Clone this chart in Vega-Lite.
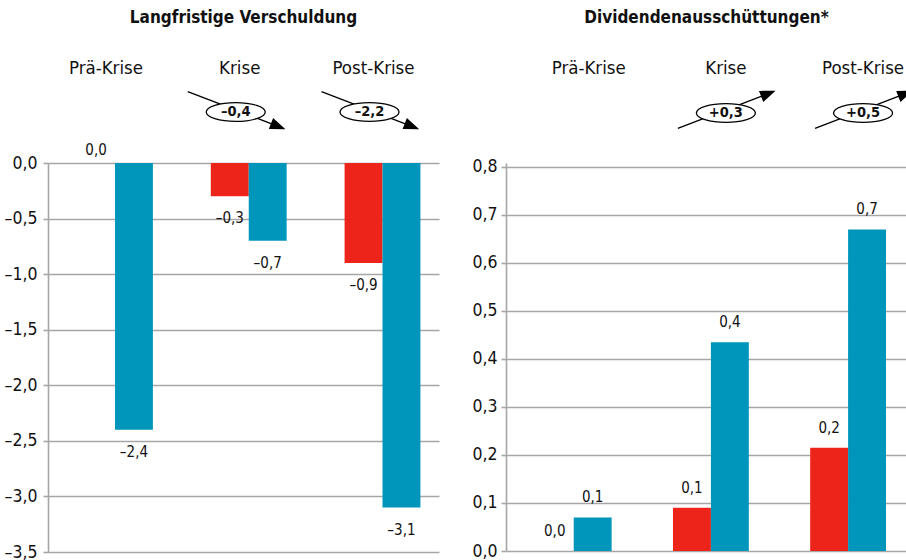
{
  "$schema": "https://vega.github.io/schema/vega-lite/v6.json",
  "background": "white",
  "padding": {"left": 4, "top": 9, "right": 0, "bottom": 2},
  "config": {
    "locale": {"number": {"decimal": ",", "thousands": ".", "grouping": [3], "currency": ["", " €"], "minus": "–"}},
    "font": "Liberation Sans Narrow, DejaVu Sans Condensed, sans-serif",
    "view": {"stroke": null},
    "concat": {"spacing": 32},
    "title": {"fontSize": 17, "fontWeight": "bold", "color": "#111111", "anchor": "middle", "offset": 31},
    "axisY": {
      "title": null, "format": ".1f", "grid": true,
      "gridColor": "#a6a6a6", "gridWidth": 1.6,
      "domainColor": "#a6a6a6", "domainWidth": 1.6,
      "tickColor": "#a6a6a6", "tickWidth": 1.6, "tickSize": 5,
      "labelFontSize": 17.5, "labelColor": "#111111", "labelPadding": 6
    },
    "axisX": {
      "title": null, "domain": false, "ticks": false, "grid": false,
      "labelAngle": 0, "labelFontSize": 18.5, "labelColor": "#111111", "labelBaseline": "alphabetic"
    }
  },
  "datasets": {
    "verschuldung": [
      {"phase": "Prä-Krise", "gruppe": "A", "wert": 0.0},
      {"phase": "Prä-Krise", "gruppe": "B", "wert": -2.4},
      {"phase": "Krise", "gruppe": "A", "wert": -0.3},
      {"phase": "Krise", "gruppe": "B", "wert": -0.7},
      {"phase": "Post-Krise", "gruppe": "A", "wert": -0.9},
      {"phase": "Post-Krise", "gruppe": "B", "wert": -3.1}
    ],
    "verschuldung_diff": [
      {"phase": "Krise", "diff": -0.4},
      {"phase": "Post-Krise", "diff": -2.2}
    ],
    "dividenden": [
      {"phase": "Prä-Krise", "gruppe": "A", "wert": 0.0},
      {"phase": "Prä-Krise", "gruppe": "B", "wert": 0.07},
      {"phase": "Krise", "gruppe": "A", "wert": 0.09},
      {"phase": "Krise", "gruppe": "B", "wert": 0.435},
      {"phase": "Post-Krise", "gruppe": "A", "wert": 0.215},
      {"phase": "Post-Krise", "gruppe": "B", "wert": 0.67}
    ],
    "dividenden_diff": [
      {"phase": "Krise", "diff": 0.3},
      {"phase": "Post-Krise", "diff": 0.5}
    ]
  },
  "hconcat": [
    {
      "width": 391,
      "height": 389,
      "title": {"text": "Langfristige Verschuldung"},
      "encoding": {
        "x": {
          "field": "phase", "type": "nominal",
          "sort": ["Prä-Krise", "Krise", "Post-Krise"],
          "scale": {"paddingInner": 0.433, "paddingOuter": 0.178, "align": 0.61},
          "axis": {"orient": "top", "labelPadding": 90, "labelOffset": -9}
        }
      },
      "layer": [
        {
          "data": {"name": "verschuldung"},
          "mark": {"type": "bar"},
          "encoding": {
            "xOffset": {"field": "gruppe", "type": "nominal"},
            "y": {"field": "wert", "type": "quantitative", "scale": {"domain": [-3.5, 0], "nice": false},
                  "axis": {"values": [-3.5, -3, -2.5, -2, -1.5, -1, -0.5, 0]}},
            "color": {"field": "gruppe", "type": "nominal", "scale": {"domain": ["A", "B"], "range": ["#ec2419", "#0096bc"]}, "legend": null}
          }
        },
        {
          "data": {"name": "verschuldung"},
          "transform": [{"filter": "datum.wert < 0"}],
          "mark": {"type": "text", "baseline": "middle", "dy": 22, "fontSize": 15, "color": "#111111"},
          "encoding": {
            "xOffset": {"field": "gruppe", "type": "nominal"},
            "y": {"field": "wert", "type": "quantitative"},
            "text": {"field": "wert", "type": "quantitative", "format": ".1f"}
          }
        },
        {
          "data": {"name": "verschuldung"},
          "transform": [{"filter": "datum.wert >= 0"}],
          "mark": {"type": "text", "baseline": "middle", "dy": -13, "fontSize": 15, "color": "#111111"},
          "encoding": {
            "xOffset": {"field": "gruppe", "type": "nominal"},
            "y": {"field": "wert", "type": "quantitative"},
            "text": {"field": "wert", "type": "quantitative", "format": ".1f"}
          }
        },
        {
          "data": {"name": "verschuldung_diff"},
          "mark": {"type": "point", "shape": "M-1,-0.385L0.747,0.2875M0.7096,0.3845L1,0.385L0.7844,0.1905Z", "size": 9216, "filled": true, "fill": "#000000", "stroke": "#000000", "strokeWidth": 1.3, "opacity": 1, "xOffset": -13, "yOffset": -53},
          "encoding": {"y": {"datum": 0, "type": "quantitative"}}
        },
        {
          "data": {"name": "verschuldung_diff"},
          "mark": {"type": "point", "shape": "M-1,0A1,0.32,0,1,1,1,0A1,0.32,0,1,1,-1,0Z", "size": 3481, "filled": true, "fill": "#ffffff", "stroke": "#000000", "strokeWidth": 1.3, "opacity": 1, "xOffset": -13, "yOffset": -51},
          "encoding": {"y": {"datum": 0, "type": "quantitative"}}
        },
        {
          "data": {"name": "verschuldung_diff"},
          "mark": {"type": "text", "baseline": "middle", "fontSize": 14.5, "fontWeight": "bold", "color": "#111111", "xOffset": -13, "yOffset": -51},
          "encoding": {
            "y": {"datum": 0, "type": "quantitative"},
            "text": {"field": "diff", "type": "quantitative", "format": "+.1f"}
          }
        }
      ]
    },
    {
      "width": 401,
      "height": 388,
      "title": {"text": "Dividendenausschüttungen*"},
      "encoding": {
        "x": {
          "field": "phase", "type": "nominal",
          "sort": ["Prä-Krise", "Krise", "Post-Krise"],
          "scale": {"paddingInner": 0.433, "paddingOuter": 0.178, "align": 0.61},
          "axis": {"orient": "top", "labelPadding": 90, "labelOffset": 14}
        }
      },
      "layer": [
        {
          "data": {"name": "dividenden"},
          "mark": {"type": "bar"},
          "encoding": {
            "xOffset": {"field": "gruppe", "type": "nominal"},
            "y": {"field": "wert", "type": "quantitative", "scale": {"domain": [0, 0.8083], "nice": false},
                  "axis": {"values": [0, 0.1, 0.2, 0.3, 0.4, 0.5, 0.6, 0.7, 0.8], "labelPadding": 4}},
            "color": {"field": "gruppe", "type": "nominal", "scale": {"domain": ["A", "B"], "range": ["#ec2419", "#0096bc"]}, "legend": null}
          }
        },
        {
          "data": {"name": "dividenden"},
          "mark": {"type": "text", "baseline": "middle", "dy": -20, "fontSize": 15, "color": "#111111"},
          "encoding": {
            "xOffset": {"field": "gruppe", "type": "nominal"},
            "y": {"field": "wert", "type": "quantitative"},
            "text": {"field": "wert", "type": "quantitative", "format": ".1f"}
          }
        },
        {
          "data": {"name": "dividenden_diff"},
          "mark": {"type": "point", "shape": "M-1,0.385L0.747,-0.2875M0.7096,-0.3845L1,-0.385L0.7844,-0.1905Z", "size": 9216, "filled": true, "fill": "#000000", "stroke": "#000000", "strokeWidth": 1.3, "opacity": 1, "xOffset": 14, "yOffset": -57},
          "encoding": {"y": {"datum": 0.8, "type": "quantitative"}}
        },
        {
          "data": {"name": "dividenden_diff"},
          "mark": {"type": "point", "shape": "M-1,0A1,0.32,0,1,1,1,0A1,0.32,0,1,1,-1,0Z", "size": 3481, "filled": true, "fill": "#ffffff", "stroke": "#000000", "strokeWidth": 1.3, "opacity": 1, "xOffset": 14, "yOffset": -54},
          "encoding": {"y": {"datum": 0.8, "type": "quantitative"}}
        },
        {
          "data": {"name": "dividenden_diff"},
          "mark": {"type": "text", "baseline": "middle", "fontSize": 14.5, "fontWeight": "bold", "color": "#111111", "xOffset": 14, "yOffset": -54},
          "encoding": {
            "y": {"datum": 0.8, "type": "quantitative"},
            "text": {"field": "diff", "type": "quantitative", "format": "+.1f"}
          }
        }
      ]
    }
  ]
}
